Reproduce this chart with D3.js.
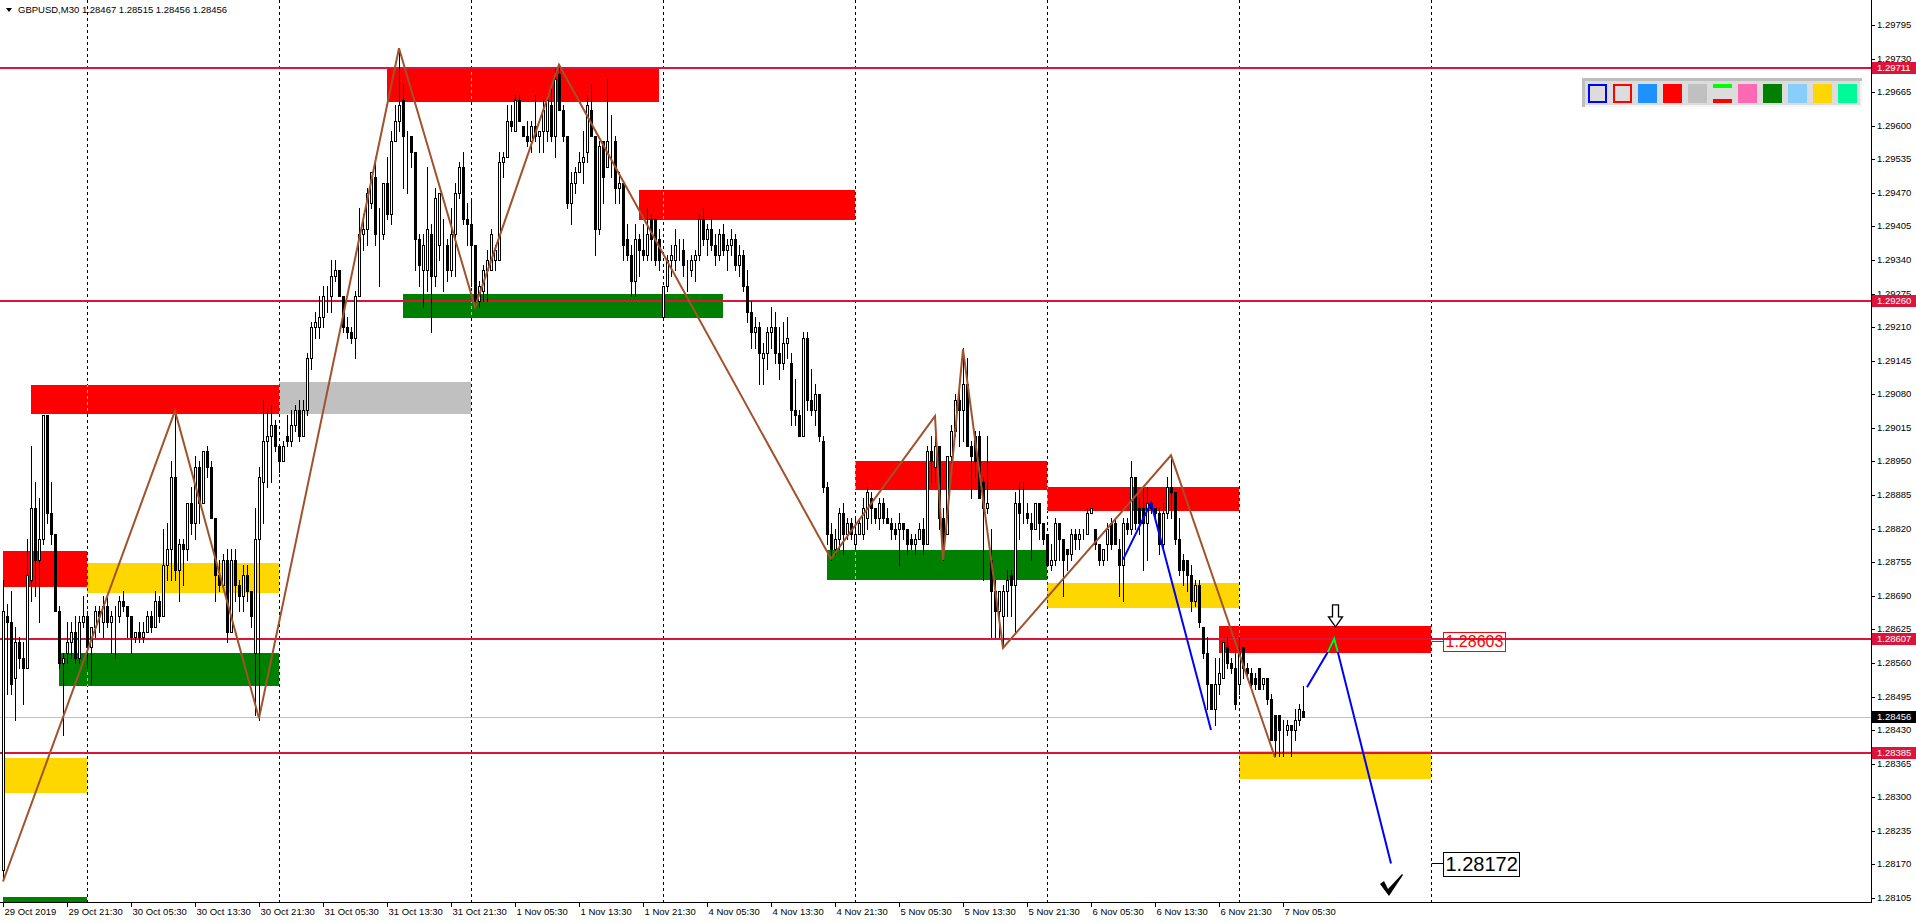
<!DOCTYPE html>
<html><head><meta charset="utf-8">
<script src="https://cdn.jsdelivr.net/npm/d3@7"></script>
<style>html,body{margin:0;padding:0;background:#fff;overflow:hidden}svg{display:block}</style>
</head><body><svg id="chart" width="1916" height="923"></svg>
<script>
// ---------------- DATA ----------------
const symbolTitle = "GBPUSD,M30";
const headerQuote = [1.28467, 1.28515, 1.28456, 1.28456];
const yTickValues = [1.28105,1.28170,1.28235,1.28300,1.28365,1.28430,1.28495,1.28560,1.28625,1.28690,1.28755,1.28820,1.28885,1.28950,1.29015,1.29080,1.29145,1.29210,1.29275,1.29340,1.29405,1.29470,1.29535,1.29600,1.29665,1.29730,1.29795];
const xTickBars = [0,16,32,48,64,80,96,112,128,144,160,176,192,208,224,240,256,272,288,304,320];
const xTickLabels = ["29 Oct 2019","29 Oct 21:30","30 Oct 05:30","30 Oct 13:30","30 Oct 21:30","31 Oct 05:30","31 Oct 13:30","31 Oct 21:30","1 Nov 05:30","1 Nov 13:30","1 Nov 21:30","4 Nov 05:30","4 Nov 13:30","4 Nov 21:30","5 Nov 05:30","5 Nov 13:30","5 Nov 21:30","6 Nov 05:30","6 Nov 13:30","6 Nov 21:30","7 Nov 05:30"];
const daySeparatorBars = [21,69,117,165,213,261,309,357];
const levelPrices = [1.29711, 1.29260, 1.28607, 1.28385];
const bidPrice = 1.28456;

// candles: [open, high, low, close], one per M30 bar
const candles = [
// 0
[1.2816,1.2872,1.2814,1.2866],[1.2865,1.28675,1.2850,1.2864],[1.2864,1.2870,1.2850,1.2852],[1.2853,1.2863,1.2845,1.2860],[1.2860,1.2861,1.2855,1.2857],
[1.2857,1.2860,1.2848,1.2855],[1.2855,1.2880,1.2855,1.2873],[1.2872,1.2898,1.2868,1.2886],[1.2886,1.2891,1.2869,1.2876],[1.2876,1.2888,1.2864,1.2880],
// 10
[1.2880,1.2904,1.2879,1.2904],[1.2904,1.2904,1.2883,1.2885],[1.2885,1.2891,1.2879,1.2881],[1.2881,1.2881,1.2866,1.2866],[1.2866,1.2867,1.2855,1.2856],
[1.2856,1.2858,1.2842,1.2857],[1.2858,1.2864,1.2856,1.2860],[1.2860,1.2864,1.2857,1.2862],[1.2862,1.2865,1.2856,1.2857],[1.2857,1.2865,1.2856,1.2864],
// 20
[1.2864,1.2869,1.2863,1.2865],[1.2865,1.2866,1.2855,1.2859],[1.2859,1.2863,1.2852,1.2863],[1.2863,1.2867,1.2861,1.2866],[1.2866,1.2867,1.2862,1.2865],
[1.2864,1.2869,1.2861,1.2867],[1.2867,1.2869,1.2863,1.2864],[1.2864,1.2866,1.2858,1.2865],[1.2865,1.2867,1.2857,1.2865],[1.2865,1.2869,1.2864,1.2868],
// 30
[1.2868,1.2870,1.2866,1.2867],[1.2867,1.2867,1.2861,1.2865],[1.2865,1.2865,1.2858,1.2861],[1.2861,1.2862,1.2860,1.2862],[1.2862,1.2864,1.2860,1.2861],
[1.2861,1.2864,1.2860,1.2862],[1.2862,1.2866,1.2862,1.2865],[1.2865,1.2866,1.2862,1.2863],[1.2863,1.2870,1.2863,1.2868],[1.2868,1.2869,1.2864,1.2865],
// 40
[1.2865,1.2882,1.2865,1.2875],[1.2875,1.2883,1.2872,1.2878],[1.2878,1.2895,1.2872,1.2892],[1.2892,1.2905,1.2872,1.2874],[1.2874,1.2880,1.2868,1.2879],
[1.2879,1.2880,1.2871,1.2878],[1.2878,1.2887,1.2876,1.2887],[1.2887,1.2890,1.2881,1.2883],[1.2883,1.2896,1.2880,1.2894],[1.2894,1.2895,1.2883,1.2887],
// 50
[1.2887,1.2897,1.2887,1.2897],[1.2897,1.2898,1.2892,1.2894],[1.2894,1.2895,1.2884,1.2884],[1.2884,1.2884,1.2868,1.2873],[1.2873,1.2876,1.2870,1.2871],
[1.2871,1.2877,1.2871,1.2876],[1.2876,1.2878,1.2860,1.2862],[1.2862,1.2878,1.2862,1.2876],[1.2876,1.2878,1.2868,1.2871],[1.2871,1.2872,1.2866,1.2869],
// 60
[1.2869,1.2875,1.2866,1.2873],[1.2873,1.2875,1.2868,1.2870],[1.2870,1.2870,1.2863,1.2865],[1.2858,1.2886,1.2846,1.2880],[1.2880,1.2894,1.2845,1.2892],
[1.2891,1.2907,1.2883,1.2899],[1.2899,1.2905,1.2890,1.2900],[1.2900,1.2906,1.2891,1.2902],[1.2902,1.2903,1.2897,1.2898],[1.2898,1.2898,1.2893,1.2895],
// 70
[1.2895,1.2899,1.2895,1.2898],[1.2900,1.2904,1.2898,1.2899],[1.2899,1.2905,1.2898,1.2902],[1.2902,1.2906,1.2901,1.2905],[1.2905,1.2907,1.2899,1.2900],
[1.2900,1.2907,1.2900,1.2905],[1.2905,1.2916,1.2904,1.2915],[1.2915,1.2922,1.2913,1.2921],[1.2921,1.2924,1.2919,1.2922],[1.2921,1.2927,1.2919,1.2923],
// 80
[1.2923,1.2929,1.2921,1.2927],[1.2927,1.2929,1.2924,1.2927],[1.2927,1.2934,1.2924,1.2931],[1.2931,1.2934,1.2930,1.2932],[1.2932,1.2932,1.2927,1.2927],
[1.2927,1.2927,1.2920,1.2921],[1.2921,1.2923,1.2919,1.2920],[1.2920,1.2921,1.2918,1.2919],[1.2919,1.2928,1.2915,1.2927],[1.2927,1.2944,1.2927,1.2939],
// 90
[1.2939,1.2943,1.2936,1.2940],[1.2940,1.2948,1.2937,1.2947],[1.2945,1.2951,1.2944,1.2951],[1.2950,1.2954,1.2937,1.2939],[1.2939,1.2944,1.2929,1.2939],
[1.2939,1.2949,1.2938,1.2949],[1.2949,1.2954,1.2942,1.2943],[1.2943,1.2959,1.2941,1.2957],[1.2957,1.2964,1.2957,1.2961],[1.2961,1.2975,1.2959,1.2964],
// 100
[1.2965,1.2968,1.2948,1.2958],[1.2958,1.2959,1.2947,1.2958],[1.2958,1.2958,1.2952,1.2955],[1.2955,1.2955,1.2932,1.2938],[1.2938,1.2939,1.2929,1.2933],
[1.2932,1.2939,1.2925,1.2937],[1.2932,1.2952,1.2928,1.2940],[1.2939,1.2941,1.2920,1.2931],[1.2931,1.2948,1.2929,1.2946],[1.2937,1.2947,1.2934,1.2947],
// 110
[1.2937,1.2942,1.2928,1.2937],[1.2937,1.2938,1.2930,1.2932],[1.2932,1.2944,1.2931,1.2939],[1.2939,1.2949,1.2931,1.2947],[1.2947,1.2953,1.2946,1.2952],
[1.2952,1.2955,1.2941,1.2942],[1.2942,1.2945,1.2937,1.2941],[1.2941,1.2946,1.2929,1.2937],[1.2937,1.2937,1.2925,1.2926],[1.2926,1.2930,1.2925,1.2929],
// 120
[1.2928,1.2933,1.2926,1.2932],[1.2932,1.2936,1.2926,1.2934],[1.2932,1.2940,1.2932,1.2939],[1.2934,1.2937,1.2932,1.2936],[1.2934,1.2955,1.2934,1.2953],
[1.2953,1.2955,1.2950,1.2954],[1.2954,1.2964,1.2954,1.2961],[1.2961,1.2964,1.2959,1.2960],[1.2959,1.2966,1.2959,1.2965],[1.2965,1.2966,1.2961,1.2961],
// 130
[1.2960,1.2960,1.2958,1.2958],[1.2958,1.2961,1.2956,1.2957],[1.2957,1.2961,1.2955,1.2960],[1.2960,1.2966,1.2957,1.2958],[1.2958,1.2959,1.2955,1.2959],
[1.2959,1.2965,1.2955,1.2963],[1.2959,1.2966,1.2957,1.2965],[1.2964,1.2968,1.2957,1.2958],[1.2958,1.2971,1.2954,1.2969],[1.2970,1.2972,1.2963,1.2963],
// 140
[1.2963,1.2964,1.2957,1.2958],[1.2958,1.2958,1.2944,1.2945],[1.2945,1.2951,1.2941,1.2949],[1.2949,1.2952,1.2947,1.2951],[1.2951,1.2955,1.2951,1.2953],
[1.2953,1.2959,1.2949,1.2954],[1.2955,1.2966,1.2953,1.2964],[1.2963,1.2968,1.2958,1.2958],[1.2958,1.2958,1.2935,1.2940],[1.2940,1.2957,1.2939,1.2956],
// 150
[1.2957,1.2957,1.2945,1.2950],[1.2952,1.2969,1.2952,1.2957],[1.2957,1.2962,1.2950,1.2957],[1.2957,1.2958,1.2945,1.2948],[1.2948,1.2951,1.2945,1.2949],
[1.2949,1.2949,1.2934,1.2937],[1.2938,1.2941,1.2934,1.2935],[1.2935,1.2937,1.2927,1.2930],[1.2930,1.2941,1.2927,1.2938],[1.2938,1.2939,1.2931,1.2936],
// 160
[1.2936,1.2941,1.2934,1.2935],[1.2935,1.2944,1.2934,1.2939],[1.2942,1.2943,1.2934,1.2938],[1.2942,1.2942,1.2933,1.2934],[1.2938,1.2940,1.2932,1.2934],
[1.2923,1.2929,1.2923,1.2929],[1.2929,1.2935,1.2928,1.2934],[1.2934,1.2937,1.2931,1.2935],[1.2934,1.2940,1.2932,1.2937],[1.2937,1.2938,1.2934,1.2937],
// 170
[1.2936,1.2938,1.2931,1.2933],[1.2933,1.2934,1.2928,1.2933],[1.2932,1.2935,1.2931,1.2934],[1.2934,1.2936,1.2930,1.2935],[1.2935,1.2943,1.2934,1.2942],
[1.2942,1.2944,1.2937,1.2938],[1.2938,1.2941,1.2935,1.2940],[1.2940,1.2942,1.2936,1.2937],[1.2937,1.2939,1.2933,1.2935],[1.2935,1.2940,1.2934,1.2939],
// 180
[1.2939,1.2941,1.2935,1.2936],[1.2936,1.2938,1.2932,1.2937],[1.2937,1.2940,1.2935,1.2938],[1.2938,1.2939,1.2932,1.2933],[1.2933,1.2937,1.2931,1.2935],
[1.2935,1.2936,1.2928,1.2929],[1.2929,1.2932,1.2922,1.2924],[1.2924,1.2926,1.2917,1.2920],[1.2920,1.2923,1.2917,1.2921],[1.2921,1.2922,1.2910,1.2916],
// 190
[1.2915,1.2918,1.2910,1.2916],[1.2916,1.2921,1.2913,1.2920],[1.2920,1.2925,1.2917,1.2921],[1.2921,1.2924,1.2914,1.2916],[1.2916,1.2921,1.2911,1.2914],
[1.2914,1.2922,1.2913,1.2918],[1.2918,1.2923,1.2915,1.2919],[1.2914,1.2916,1.2902,1.2905],[1.2905,1.2911,1.2902,1.2904],[1.2904,1.2905,1.2900,1.2900],
// 200
[1.2900,1.2920,1.2900,1.2919],[1.2919,1.2920,1.2905,1.2907],[1.2907,1.2913,1.2904,1.2905],[1.2905,1.2910,1.2902,1.2908],[1.2908,1.2908,1.2899,1.2900],
[1.2899,1.2900,1.2889,1.2890],[1.2890,1.2891,1.2879,1.2881],[1.2881,1.2883,1.2876,1.2878],[1.2878,1.2882,1.2877,1.2880],[1.2880,1.2886,1.2878,1.2885],
// 210
[1.2885,1.2887,1.2877,1.2881],[1.2881,1.2884,1.2880,1.2883],[1.2883,1.2884,1.2880,1.2881],[1.2879,1.2884,1.2878,1.2881],[1.2881,1.2884,1.2881,1.2883],
[1.2881,1.2888,1.2880,1.2886],[1.2884,1.2890,1.2882,1.2889],[1.2888,1.2889,1.2883,1.2886],[1.2886,1.2886,1.2883,1.2884],[1.2884,1.2888,1.2882,1.2887],
// 220
[1.2887,1.2888,1.2883,1.2884],[1.2884,1.2886,1.2883,1.2883],[1.2883,1.2884,1.2880,1.2882],[1.2882,1.2883,1.2880,1.2881],[1.2882,1.2885,1.2875,1.2883],
[1.2883,1.2883,1.2880,1.2882],[1.2882,1.2882,1.2877,1.2879],[1.2880,1.2881,1.2878,1.2879],[1.2879,1.2881,1.2877,1.2880],[1.2880,1.2883,1.2880,1.2882],
// 230
[1.2882,1.2884,1.2877,1.2879],[1.2879,1.2898,1.2879,1.2897],[1.2897,1.2900,1.2891,1.2895],[1.2894,1.2900,1.2891,1.2898],[1.2898,1.2898,1.2882,1.2884],
[1.2884,1.2886,1.2876,1.2879],[1.2881,1.2896,1.2881,1.2896],[1.2896,1.2902,1.2893,1.2901],[1.2901,1.2908,1.2900,1.2907],[1.2907,1.2909,1.2898,1.2905],
// 240
[1.2905,1.2917,1.2899,1.2910],[1.2910,1.2915,1.2898,1.2898],[1.2898,1.2899,1.2888,1.2896],[1.2900,1.2901,1.2892,1.2895],[1.2900,1.2901,1.2888,1.2888],
[1.2891,1.2892,1.2872,1.2886],[1.2886,1.2900,1.2885,1.2887],[1.2876,1.2882,1.2861,1.2870],[1.2870,1.2872,1.2861,1.2866],[1.2866,1.2870,1.2861,1.2870],
// 250
[1.2865,1.2871,1.2859,1.2870],[1.2870,1.2874,1.2865,1.2872],[1.2873,1.2874,1.2865,1.2871],[1.2871,1.2889,1.2862,1.2887],[1.2887,1.2891,1.2880,1.2885],
[1.2885,1.2891,1.2883,1.2885],[1.2885,1.2887,1.2883,1.2884],[1.2883,1.2885,1.2876,1.2882],[1.2882,1.2887,1.2882,1.2887],[1.2887,1.2887,1.2880,1.2883],
// 260
[1.2883,1.2883,1.2879,1.2880],[1.2881,1.2881,1.2875,1.2875],[1.2875,1.2879,1.2874,1.2876],[1.2876,1.2884,1.2875,1.2883],[1.2883,1.2883,1.2876,1.2880],
[1.2880,1.2880,1.2869,1.2876],[1.2878,1.2878,1.2874,1.2877],[1.2877,1.2882,1.2876,1.2881],[1.2881,1.2882,1.2878,1.2880],[1.2880,1.2882,1.2878,1.2881],
// 270
[1.2881,1.2882,1.2880,1.2881],[1.2881,1.2886,1.2881,1.2885],[1.2885,1.2886,1.2885,1.2886],[1.2882,1.2882,1.2878,1.2879],[1.2879,1.2879,1.2875,1.2876],
[1.2876,1.2878,1.2875,1.2878],[1.2879,1.2883,1.2876,1.2882],[1.2883,1.2884,1.2878,1.2879],[1.2883,1.2884,1.2879,1.2879],[1.2878,1.2880,1.2869,1.2875],
// 280
[1.2875,1.2884,1.2868,1.2883],[1.2883,1.2884,1.2881,1.2882],[1.2882,1.2895,1.2881,1.2892],[1.2892,1.2892,1.2882,1.2883],[1.2886,1.2888,1.2881,1.2883],
[1.2886,1.2890,1.2874,1.2883],[1.2883,1.2890,1.2876,1.2887],[1.2887,1.2887,1.2885,1.2886],[1.2886,1.2886,1.2884,1.2885],[1.2885,1.2886,1.2877,1.2879],
// 290
[1.2879,1.2887,1.2878,1.2885],[1.2885,1.2892,1.2884,1.2890],[1.2890,1.2896,1.2884,1.2889],[1.2889,1.2889,1.2879,1.2880],[1.2880,1.2884,1.2873,1.2874],
[1.2876,1.2877,1.2871,1.2874],[1.2876,1.2876,1.2870,1.2873],[1.2873,1.2875,1.2866,1.2868],[1.2868,1.2872,1.2867,1.2871],[1.2871,1.2872,1.2863,1.2864],
// 300
[1.2863,1.2863,1.2857,1.2858],[1.2858,1.2861,1.2847,1.2852],[1.2852,1.2852,1.2847,1.2847],[1.2847,1.2857,1.2844,1.2852],[1.2852,1.2857,1.2850,1.2854],
[1.2853,1.2860,1.2853,1.2860],[1.2859,1.2861,1.2855,1.2856],[1.2856,1.2857,1.2854,1.2855],[1.2855,1.2858,1.2847,1.2848],[1.2852,1.2861,1.2850,1.2858],
// 310
[1.2859,1.2859,1.2853,1.2855],[1.2855,1.2856,1.2853,1.2854],[1.2854,1.2855,1.2851,1.2852],[1.2853,1.2854,1.2851,1.2852],[1.2855,1.2855,1.2851,1.2851],
[1.2852,1.2853,1.2851,1.2853],[1.2853,1.2853,1.2848,1.2849],[1.2849,1.2850,1.2841,1.2841],[1.2846,1.2846,1.2838,1.2841],[1.2846,1.2846,1.2838,1.2843],
// 320
[1.2843,1.2845,1.2838,1.2843],[1.2843,1.2845,1.2842,1.2844],[1.2844,1.2844,1.2838,1.2843],[1.2843,1.2847,1.2841,1.2845],[1.2845,1.2848,1.2844,1.2847],
[1.28467,1.28515,1.28456,1.28456]
];

// supply / demand zones: start bar, end bar, top price, bottom price, kind
const zoneStart  = [96, 159, 100, 7, 69, 0, 21, 14, 0, 0, 213, 206, 261, 261, 304, 309];
const zoneEnd    = [164, 213, 180, 69, 117, 21, 69, 69, 21, 21, 261, 261, 309, 309, 357, 357];
const zoneTop    = [1.29709,1.29476,1.29275,1.29098,1.29103,1.28776,1.28753,1.28579,1.28376,1.28107,1.28950,1.28779,1.28901,1.28715,1.28631,1.28390];
const zoneBottom = [1.29646,1.29418,1.29228,1.29041,1.29041,1.28707,1.28695,1.28515,1.28308,1.28000,1.28895,1.28720,1.28855,1.28667,1.28580,1.28336];
const zoneKind   = ["supply","supply","demand","supply","broken","supply","pending","demand","pending","demand","supply","demand","supply","pending","supply","pending"];

// zigzag swing points: bar, price
const zigzagBars   = [0, 43, 64, 99, 118, 139, 207, 233, 235, 240, 250, 292, 318];
const zigzagPrices = [1.28137,1.29048,1.28453,1.29750,1.29249,1.29718,1.28762,1.29038,1.28759,1.29167,1.28589,1.28962,1.28377];
// blue wave
const waveBars   = [280, 287, 302];
const wavePrices = [1.28760, 1.28870, 1.28430];
// projection path
const projBars   = [326, 331.2, 332.8, 333.7, 347];
const projPrices = [1.28513, 1.28581, 1.28607, 1.28581, 1.28172];
const projPeakBars   = [331.2, 332.8, 333.7];
const projPeakPrices = [1.28581, 1.28607, 1.28581];
const arrowBar = 333, arrowPrice = 1.28630;
const checkBar = 347, checkPrice = 1.28130;
const noteBars = [357, 357];
const notePrices = [1.28603, 1.28172];
const noteTexts = ["1.28603", "1.28172"];
const noteKinds = ["target", "final"];
const paletteNames = ["frameBlue","frameRed","dodgerblue","red","silver","lines","hotpink","green","lightskyblue","gold","springgreen"];

// ---------------- STYLE ----------------
const FONT = "'Liberation Sans', Arial, sans-serif";
const zoneColors = {supply:"#FF0000", demand:"#008000", pending:"#FFD700", broken:"#C0C0C0"};
const LEVEL = "#DC143C";
const W = 1916, H = 923, PR = 1871, PB = 902;

const svg = d3.select("#chart");
svg.append("rect").attr("width", W).attr("height", H).attr("fill", "#fff");
svg.append("defs").append("clipPath").attr("id", "plot")
  .append("rect").attr("x", 0).attr("y", 0).attr("width", PR).attr("height", PB);

const x = d3.scaleLinear().domain([0, 467]).range([3, 1871]);
const y = d3.scaleLinear().domain([1.28105, 1.29795]).range([898, 25]);
const cx = i => Math.round(x(i)) + 0.5;

const plot = svg.append("g").attr("clip-path", "url(#plot)");
plot.append("rect").attr("x", 0).attr("y", 0).attr("width", PR).attr("height", PB).attr("fill", "#fff");

// zones
plot.append("g").selectAll("rect").data(zoneStart).join("rect")
  .attr("x", (d, k) => Math.round(x(d)))
  .attr("width", (d, k) => Math.round(x(zoneEnd[k])) - Math.round(x(d)))
  .attr("y", (d, k) => Math.round(y(zoneTop[k])))
  .attr("height", (d, k) => Math.round(y(zoneBottom[k])) - Math.round(y(zoneTop[k])))
  .attr("fill", (d, k) => zoneColors[zoneKind[k]]);

// period separators (XOR-like)
plot.append("g").style("mix-blend-mode", "difference").attr("shape-rendering", "crispEdges")
  .selectAll("line").data(daySeparatorBars).join("line")
  .attr("x1", d => cx(d)).attr("x2", d => cx(d)).attr("y1", 0).attr("y2", PB)
  .attr("stroke", "#fff").attr("stroke-width", 1).attr("stroke-dasharray", "3,3");

// levels
plot.append("g").selectAll("line").data(levelPrices).join("line")
  .attr("x1", 0).attr("x2", PR)
  .attr("y1", d => Math.round(y(d))).attr("y2", d => Math.round(y(d)))
  .attr("stroke", LEVEL).attr("stroke-width", 2);
plot.append("line").attr("x1", 0).attr("x2", PR)
  .attr("y1", Math.round(y(bidPrice)) + 0.5).attr("y2", Math.round(y(bidPrice)) + 0.5)
  .attr("stroke", "#C0C0C0").attr("stroke-width", 1);

// candles
const cg = plot.append("g").attr("shape-rendering", "crispEdges");
const cs = cg.selectAll("g").data(candles).join("g");
cs.append("line")
  .attr("x1", (d, i) => cx(i)).attr("x2", (d, i) => cx(i))
  .attr("y1", d => Math.round(y(d[1]))).attr("y2", d => Math.round(y(d[2])) + 1)
  .attr("stroke", "#000");
cs.append("rect")
  .attr("x", (d, i) => cx(i) - 1)
  .attr("y", d => Math.round(y(Math.max(d[0], d[3]))) + 0.5)
  .attr("width", 2)
  .attr("height", d => Math.max(0, Math.round(y(Math.min(d[0], d[3]))) - Math.round(y(Math.max(d[0], d[3])))))
  .attr("fill", d => d[3] >= d[0] ? "#fff" : "#000")
  .attr("stroke", "#000").attr("stroke-width", 1);

// zigzag
const lineGen = d3.line();
plot.append("path")
  .attr("d", lineGen(zigzagBars.map((b, k) => [x(b), y(zigzagPrices[k])])))
  .attr("fill", "none").attr("stroke", "#A0522D").attr("stroke-width", 2);
plot.append("path")
  .attr("d", lineGen(waveBars.map((b, k) => [x(b), y(wavePrices[k])])))
  .attr("fill", "none").attr("stroke", "#0000FF").attr("stroke-width", 2);
plot.append("path")
  .attr("d", lineGen(projBars.map((b, k) => [x(b), y(projPrices[k])])))
  .attr("fill", "none").attr("stroke", "#0000FF").attr("stroke-width", 2);
plot.append("path")
  .attr("d", lineGen(projPeakBars.map((b, k) => [x(b), y(projPeakPrices[k])])))
  .attr("fill", "none").attr("stroke", "#00FF00").attr("stroke-width", 2);

// hollow down arrow
const ax = x(arrowBar) + 0.5, ay = y(arrowPrice);
plot.append("path")
  .attr("d", `M${ax - 3},${ay - 22} L${ax + 3},${ay - 22} L${ax + 3},${ay - 10} L${ax + 7},${ay - 10} L${ax},${ay} L${ax - 7},${ay - 10} L${ax - 3},${ay - 10} Z`)
  .attr("fill", "#fff").attr("stroke", "#000").attr("stroke-width", 1.3);

// check mark
const kx = x(checkBar), ky = y(checkPrice);
plot.append("path")
  .attr("d", `M${kx - 11},${ky - 1} L${kx - 7},${ky - 4} L${kx - 3},${ky + 4} L${kx + 11},${ky - 11} L${kx + 12},${ky - 10} L${kx - 2},${ky + 11} Z`)
  .attr("fill", "#000");

// note labels
const noteFont = {target: 16, final: 20};
const noteColor = {target: "#FF0000", final: "#000"};
noteTexts.forEach((t, k) => {
  const lx = cx(noteBars[k]);
  const ly = Math.round(y(notePrices[k])) + 0.5;
  const fs = noteFont[noteKinds[k]], col = noteColor[noteKinds[k]];
  const g = svg.append("g");
  const txt = g.append("text").attr("x", lx + 14).attr("y", ly).attr("dy", "0.36em")
    .attr("font-family", FONT).attr("font-size", fs).attr("fill", col).text(t);
  const bb = txt.node().getBBox();
  g.insert("rect", "text").attr("x", Math.round(bb.x) - 2.5).attr("y", Math.round(ly - fs * 0.6) + 0.5)
    .attr("width", Math.round(bb.width) + 4).attr("height", Math.round(fs * 1.2))
    .attr("fill", noteKinds[k] === "final" ? "#fff" : "none").attr("stroke", col).attr("stroke-width", 1);
  g.insert("line", "rect").attr("x1", lx).attr("x2", Math.round(bb.x) - 2.5).attr("y1", ly).attr("y2", ly)
    .attr("stroke", col).attr("stroke-width", 1);
});

// axes
const ax2 = svg.append("g").attr("shape-rendering", "crispEdges");
ax2.append("line").attr("x1", PR + 0.5).attr("x2", PR + 0.5).attr("y1", 0).attr("y2", PB + 1).attr("stroke", "#000");
ax2.append("line").attr("x1", 0).attr("x2", PR + 1).attr("y1", PB + 0.5).attr("y2", PB + 0.5).attr("stroke", "#000");
ax2.selectAll("line.yt").data(yTickValues).join("line").attr("class", "yt")
  .attr("x1", PR).attr("x2", PR + 4).attr("y1", d => Math.round(y(d)) + 0.5).attr("y2", d => Math.round(y(d)) + 0.5).attr("stroke", "#000");
svg.append("g").selectAll("text").data(yTickValues).join("text")
  .attr("x", PR + 6).attr("y", d => Math.round(y(d))).attr("dy", "0.35em")
  .attr("font-family", FONT).attr("font-size", 9.5).attr("fill", "#000").text(d => d.toFixed(5));
ax2.selectAll("line.xt").data(xTickBars).join("line").attr("class", "xt")
  .attr("x1", d => cx(d)).attr("x2", d => cx(d)).attr("y1", PB).attr("y2", PB + 5).attr("stroke", "#000");
svg.append("g").selectAll("text").data(xTickBars).join("text")
  .attr("x", d => cx(d) + 1).attr("y", PB + 13)
  .attr("font-family", FONT).attr("font-size", 9.5).attr("fill", "#000").text((d, k) => xTickLabels[k]);

// price tags on axis
const tags = levelPrices.map(p => ({p, bg: LEVEL})).concat([{p: bidPrice, bg: "#000"}]);
const tg = svg.append("g").selectAll("g").data(tags).join("g");
tg.append("rect").attr("x", PR + 1).attr("y", d => Math.round(y(d.p)) - 6).attr("width", 45).attr("height", 12).attr("fill", d => d.bg);
tg.append("text").attr("x", PR + 6).attr("y", d => Math.round(y(d.p))).attr("dy", "0.35em")
  .attr("font-family", FONT).attr("font-size", 9.5).attr("fill", "#fff").text(d => d.p.toFixed(5));

// header
svg.append("path").attr("d", "M6,8 L12,8 L9,12 Z").attr("fill", "#000");
svg.append("text").attr("x", 18).attr("y", 13).attr("font-family", FONT).attr("font-size", 9.5).attr("fill", "#000")
  .text(symbolTitle + " " + headerQuote.map(v => v.toFixed(5)).join(" "));

// palette toolbar
const tb = svg.append("g").attr("shape-rendering", "crispEdges");
tb.append("rect").attr("x", 1582).attr("y", 78).attr("width", 280).attr("height", 29).attr("fill", "#BEBEBE");
tb.append("rect").attr("x", 1585).attr("y", 81).attr("width", 277).attr("height", 26).attr("fill", "#F4F4F4");
tb.append("rect").attr("x", 1585).attr("y", 81).attr("width", 275).attr("height", 24).attr("fill", "#DCDCDC");
const swFill = {frameBlue:"#DCDCDC", frameRed:"#DCDCDC", dodgerblue:"#1E90FF", red:"#FF0000", silver:"#C0C0C0", lines:"none", hotpink:"#FF69B4", green:"#008000", lightskyblue:"#87CEFA", gold:"#FFD700", springgreen:"#00FA9A"};
paletteNames.forEach((n, k) => {
  const sx = 1588 + k * 25, sy = 84;
  if (n === "frameBlue" || n === "frameRed") {
    tb.append("rect").attr("x", sx + 1).attr("y", sy + 1).attr("width", 17).attr("height", 17)
      .attr("fill", "#DCDCDC").attr("stroke", n === "frameBlue" ? "#0000FF" : "#FF0000").attr("stroke-width", 2);
  } else if (n === "lines") {
    tb.append("rect").attr("x", sx).attr("y", sy).attr("width", 19).attr("height", 4).attr("fill", "#00FF00");
    tb.append("rect").attr("x", sx).attr("y", sy + 15).attr("width", 19).attr("height", 4).attr("fill", "#FF0000");
  } else {
    tb.append("rect").attr("x", sx).attr("y", sy).attr("width", 19).attr("height", 19).attr("fill", swFill[n]);
  }
});
</script></body></html>
